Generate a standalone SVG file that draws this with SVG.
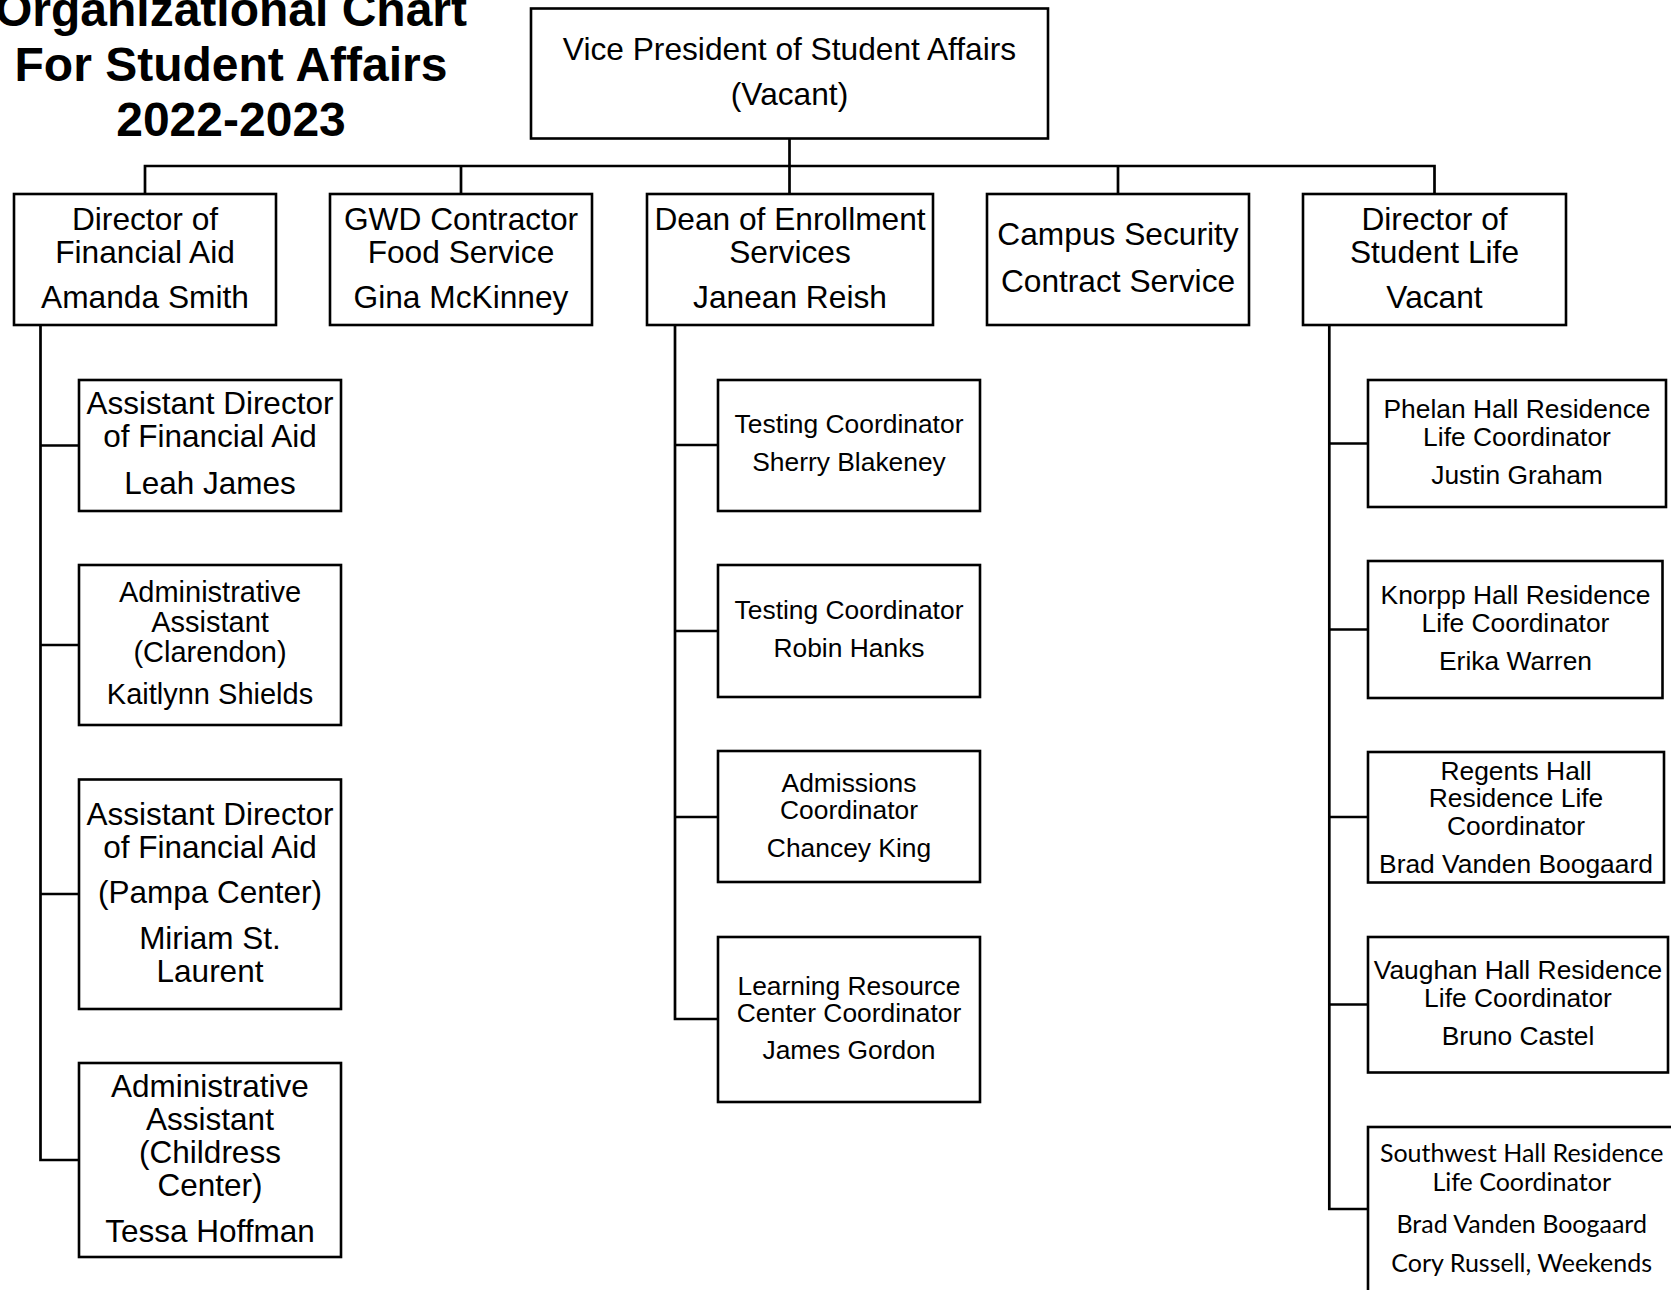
<svg xmlns="http://www.w3.org/2000/svg" width="1671" height="1290" viewBox="0 0 1671 1290">
<style>
.box{fill:#fff;stroke:#000;stroke-width:2.6}
.ln{fill:none;stroke:#000;stroke-width:2.7}
text{font-family:"Liberation Sans",Arial,sans-serif;fill:#000;text-anchor:middle}
.t{font-weight:bold;font-size:48px}
.l2{font-size:31.7px}
.s31{font-size:31.5px}
.s29{font-size:29px}
.s26{font-size:26.4px}
.cal{font-family:Lato,"Open Sans",sans-serif;font-size:25px}
</style>
<rect width="1671" height="1290" fill="#fff"/>
<g id="title">
<text class="t" x="231" y="26">Organizational Chart</text>
<text class="t" x="231" y="81">For Student Affairs</text>
<text class="t" x="231" y="136">2022-2023</text>
</g>
<g id="connectors">
<path class="ln" d="M789.5 138.5 V194"/>
<path class="ln" d="M145 194 V166 H1434.5 V194"/>
<path class="ln" d="M461 166 V194 M1118 166 V194"/>
<path class="ln" d="M40.5 325 V1160 H79 M40.5 445.5 H79 M40.5 645 H79 M40.5 894 H79"/>
<path class="ln" d="M675 325 V1019 H718 M675 445 H718 M675 631 H718 M675 817 H718"/>
<path class="ln" d="M1329.3 325 V1209 H1368 M1329.3 443.5 H1368 M1329.3 629.5 H1368 M1329.3 817 H1368 M1329.3 1004.5 H1368"/>
</g>
<g id="vp">
<rect class="box" x="531" y="8.5" width="517" height="130"/>
<text class="l2" x="789.5" y="60">Vice President of Student Affairs</text>
<text class="l2" x="789.5" y="105">(Vacant)</text>
</g>
<g id="dir-financial-aid">
<rect class="box" x="14" y="194" width="262" height="131"/>
<text class="l2" x="145" y="230">Director of</text>
<text class="l2" x="145" y="263">Financial Aid</text>
<text class="l2" x="145" y="308">Amanda Smith</text>
</g>
<g id="gwd-food">
<rect class="box" x="330" y="194" width="262" height="131"/>
<text class="l2" x="461" y="230">GWD Contractor</text>
<text class="l2" x="461" y="263">Food Service</text>
<text class="l2" x="461" y="308">Gina McKinney</text>
</g>
<g id="dean-enrollment">
<rect class="box" x="647" y="194" width="286" height="131"/>
<text class="l2" x="790" y="230">Dean of Enrollment</text>
<text class="l2" x="790" y="263">Services</text>
<text class="l2" x="790" y="308">Janean Reish</text>
</g>
<g id="campus-security">
<rect class="box" x="987" y="194" width="262" height="131"/>
<text class="l2" x="1118" y="245">Campus Security</text>
<text class="l2" x="1118" y="291.5">Contract Service</text>
</g>
<g id="dir-student-life">
<rect class="box" x="1303" y="194" width="263" height="131"/>
<text class="l2" x="1434.5" y="230">Director of</text>
<text class="l2" x="1434.5" y="263">Student Life</text>
<text class="l2" x="1434.5" y="308">Vacant</text>
</g>
<g id="asst-dir-fa">
<rect class="box" x="79" y="380" width="262" height="131"/>
<text class="s31" x="210" y="414">Assistant Director</text>
<text class="s31" x="210" y="446.7">of Financial Aid</text>
<text class="s31" x="210" y="494">Leah James</text>
</g>
<g id="admin-asst-clarendon">
<rect class="box" x="79" y="565" width="262" height="160"/>
<text class="s29" x="210" y="601.7">Administrative</text>
<text class="s29" x="210" y="631.7">Assistant</text>
<text class="s29" x="210" y="661.7">(Clarendon)</text>
<text class="s29" x="210" y="704">Kaitlynn Shields</text>
</g>
<g id="asst-dir-pampa">
<rect class="box" x="79" y="779.5" width="262" height="229.5"/>
<text class="s31" x="210" y="824.5">Assistant Director</text>
<text class="s31" x="210" y="857.5">of Financial Aid</text>
<text class="s31" x="210" y="902.5">(Pampa Center)</text>
<text class="s31" x="210" y="949">Miriam St.</text>
<text class="s31" x="210" y="982">Laurent</text>
</g>
<g id="admin-asst-childress">
<rect class="box" x="79" y="1063" width="262" height="194"/>
<text class="s31" x="210" y="1096.5">Administrative</text>
<text class="s31" x="210" y="1130">Assistant</text>
<text class="s31" x="210" y="1163">(Childress</text>
<text class="s31" x="210" y="1195.5">Center)</text>
<text class="s31" x="210" y="1241.5">Tessa Hoffman</text>
</g>
<g id="testing-blakeney">
<rect class="box" x="718" y="380" width="262" height="131"/>
<text class="s26" x="849" y="433.3">Testing Coordinator</text>
<text class="s26" x="849" y="470.5">Sherry Blakeney</text>
</g>
<g id="testing-hanks">
<rect class="box" x="718" y="565" width="262" height="132"/>
<text class="s26" x="849" y="619.3">Testing Coordinator</text>
<text class="s26" x="849" y="656.7">Robin Hanks</text>
</g>
<g id="admissions">
<rect class="box" x="718" y="751" width="262" height="131"/>
<text class="s26" x="849" y="791.7">Admissions</text>
<text class="s26" x="849" y="819">Coordinator</text>
<text class="s26" x="849" y="857.3">Chancey King</text>
</g>
<g id="learning-resource">
<rect class="box" x="718" y="937" width="262" height="165"/>
<text class="s26" x="849" y="995">Learning Resource</text>
<text class="s26" x="849" y="1021.7">Center Coordinator</text>
<text class="s26" x="849" y="1059.3">James Gordon</text>
</g>
<g id="phelan">
<rect class="box" x="1368" y="380" width="298" height="127"/>
<text class="s26" x="1517" y="418.3">Phelan Hall Residence</text>
<text class="s26" x="1517" y="445.7">Life Coordinator</text>
<text class="s26" x="1517" y="484">Justin Graham</text>
</g>
<g id="knorpp">
<rect class="box" x="1368" y="561" width="294.5" height="137"/>
<text class="s26" x="1515.5" y="604">Knorpp Hall Residence</text>
<text class="s26" x="1515.5" y="631.7">Life Coordinator</text>
<text class="s26" x="1515.5" y="670">Erika Warren</text>
</g>
<g id="regents">
<rect class="box" x="1368" y="752" width="296" height="130.5"/>
<text class="s26" x="1516" y="780">Regents Hall</text>
<text class="s26" x="1516" y="807.3">Residence Life</text>
<text class="s26" x="1516" y="835">Coordinator</text>
<text class="s26" x="1516" y="872.7">Brad Vanden Boogaard</text>
</g>
<g id="vaughan">
<rect class="box" x="1368" y="937" width="300" height="135.5"/>
<text class="s26" x="1518" y="979.3">Vaughan Hall Residence</text>
<text class="s26" x="1518" y="1006.7">Life Coordinator</text>
<text class="s26" x="1518" y="1045">Bruno Castel</text>
</g>
<g id="southwest">
<rect class="box" x="1368" y="1127" width="330" height="200"/>
<text class="cal" x="1521.7" y="1161.7">Southwest Hall Residence</text>
<text class="cal" x="1521.7" y="1190.7">Life Coordinator</text>
<text class="cal" x="1521.7" y="1232.7">Brad Vanden Boogaard</text>
<text class="cal" x="1521.7" y="1272.3">Cory Russell, Weekends</text>
</g>
</svg>
